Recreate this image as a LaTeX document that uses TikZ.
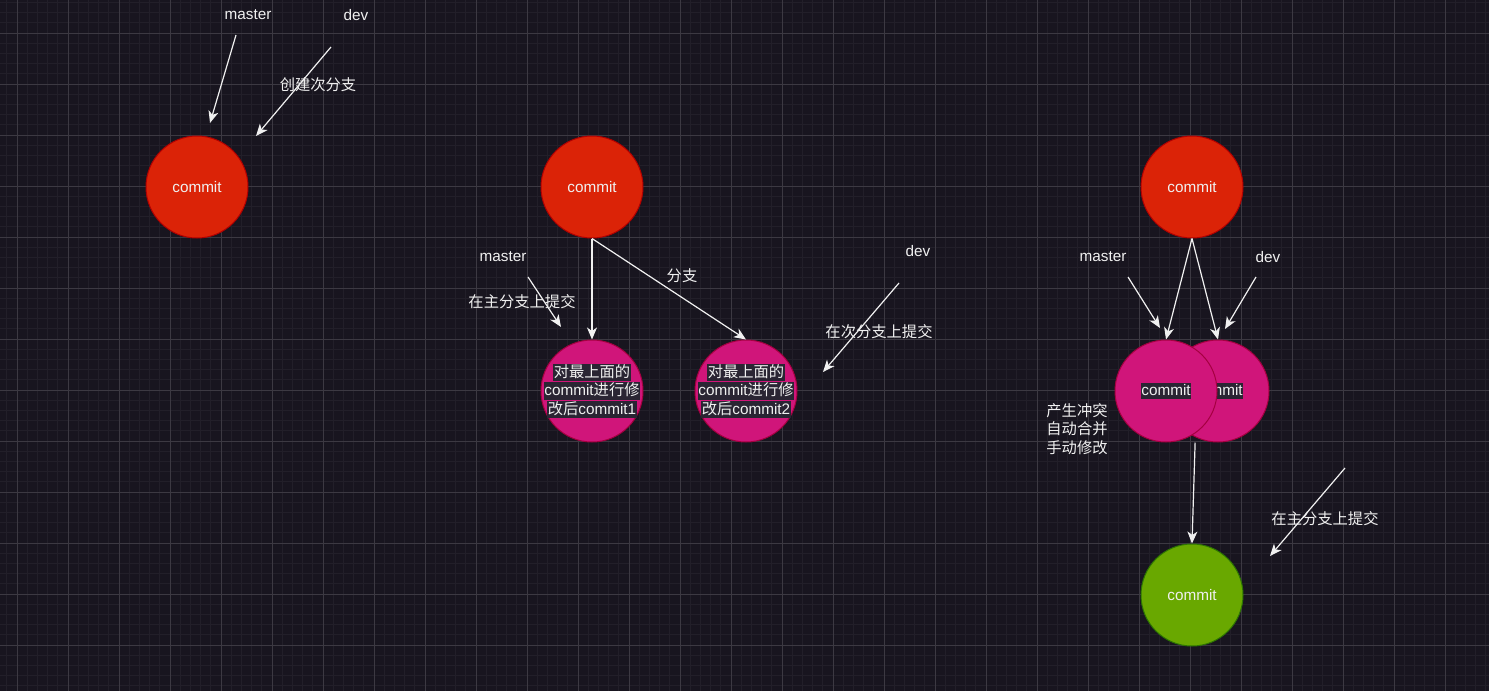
\documentclass[tikz,border=0pt]{standalone}
\usepackage{fontspec}
\setmainfont{Liberation Sans}
\newfontfamily\cjk{Noto Sans CJK SC}
\usetikzlibrary{arrows.meta,positioning,calc}
\definecolor{gBack}{HTML}{18151F}
\definecolor{gMinor}{HTML}{221F29}
\definecolor{gMajor}{HTML}{3C3942}
\definecolor{gRed}{HTML}{DB2307}
\definecolor{gRedLine}{HTML}{B20000}
\definecolor{gPink}{HTML}{D0157A}
\definecolor{gPinkLine}{HTML}{A50040}
\definecolor{gGreen}{HTML}{69A800}
\definecolor{gGreenLine}{HTML}{2D7600}
\definecolor{gText}{HTML}{F0F0F0}
\definecolor{gLabel}{HTML}{2A2533}
\setlength{\fboxsep}{0.5pt}
\newcommand{\hl}[1]{\colorbox{gLabel}{\rule[-3.8pt]{0pt}{15.8pt}#1}}
\tikzset{
  gfont/.style={font=\fontsize{15.3}{18.5}\selectfont},
  commit/.style={
    circle, minimum size=102pt, inner sep=0pt, line width=1pt,
    draw=gRedLine, fill=gRed, text=gText, align=center, gfont
  },
  change/.style={commit, draw=gPinkLine, fill=gPink},
  merged/.style={commit, draw=gGreenLine, fill=gGreen},
  lbl/.style={text=gText, inner sep=0pt, align=center, gfont},
  link/.style={-{Stealth[length=12pt, width=10pt, inset=3.5pt]}, line width=1.2pt, gText},
  minorline/.style={gMinor, line width=0.7pt},
  majorline/.style={gMajor, line width=0.8pt}
}

\begin{document}
\begin{tikzpicture}[x=1pt, y=-1pt]
  \useasboundingbox (0,0) rectangle (1489,691);
  % background grid
  \fill[gBack] (0,0) rectangle (1489,691);
  \foreach \i in {0,...,145} \draw[minorline] ({6.8+10.2*\i},0) -- ++(0,691);
  \foreach \i in {0,...,67} \draw[minorline] (0,{2.4+10.2*\i}) -- ++(1489,0);
  \foreach \i in {0,...,28} \draw[majorline] ({17+51*\i},0) -- ++(0,691);
  \foreach \i in {0,...,12} \draw[majorline] (0,{33+51*\i}) -- ++(1489,0);

  % left: create branch
  \node[commit] (c1) at (197,187) {commit};
  \node[lbl] (ma1) at (248,15) {master};
  \node[lbl] (dv1) at (356,15) {dev};
  \node[lbl] (t1) at (318,85) {\cjk 创建次分支};
  \coordinate (ma1a) at (236,35);
  \coordinate (ma1b) at (210,123);
  \coordinate (dv1a) at (331,47);
  \coordinate (dv1b) at (256,136);
  \draw[link] (ma1a) -- (ma1b);
  \draw[link] (dv1a) -- (dv1b);

  % middle: commits on both branches
  \node[commit] (c2) at (592,187) {commit};
  \node[change, label={[lbl]center:\hl{\cjk 对最上面的}\\\hl{commit{\cjk 进行修}}\\\hl{{\cjk 改后}commit1}}] (p1) at (592,391) {};
  \node[change, label={[lbl]center:\hl{\cjk 对最上面的}\\\hl{commit{\cjk 进行修}}\\\hl{{\cjk 改后}commit2}}] (p2) at (746,391) {};
  \draw[link] (c2.south) -- (p1.north);
  \draw[link] (c2.south) -- (p2.north);
  \node[lbl] (t2) at (682,276) {\cjk 分支};
  \node[lbl] (ma2) at (503,257) {master};
  \node[lbl] (t3) at (522,302) {\cjk 在主分支上提交};
  \coordinate (ma2a) at (528,277);
  \coordinate (ma2b) at (561,327);
  \draw[link] (ma2a) -- (ma2b);
  \node[lbl] (dv2) at (918,251) {dev};
  \node[lbl] (t4) at (879,332) {\cjk 在次分支上提交};
  \coordinate (dv2a) at (899,283);
  \coordinate (dv2b) at (823,372);
  \draw[link] (dv2a) -- (dv2b);

  % right: merge with conflict
  \node[commit] (c3) at (1192,187) {commit};
  \node[change] (p3) at (1218,391) {\hl{commit}};
  \node[change] (p4) at (1166,391) {\hl{commit}};
  \draw[link] (c3.south) -- (p4.north);
  \draw[link] (c3.south) -- (p3.north);
  \node[lbl] (ma3) at (1103,257) {master};
  \node[lbl] (dv3) at (1268,257) {dev};
  \coordinate (ma3a) at (1128,277);
  \coordinate (ma3b) at (1160,328);
  \coordinate (dv3a) at (1256,277);
  \coordinate (dv3b) at (1225,329);
  \draw[link] (ma3a) -- (ma3b);
  \draw[link] (dv3a) -- (dv3b);
  \node[lbl] (t5) at (1077,429) {\cjk 产生冲突\\\cjk 自动合并\\\cjk 手动修改};
  \node[merged] (g) at (1192,595) {commit};
  \draw[link] ($(p4.south)!.56!(p3.south)$) -- (g.north);
  \node[lbl] (t6) at (1325,519) {\cjk 在主分支上提交};
  \coordinate (ma4a) at (1345,468);
  \coordinate (ma4b) at (1270,556);
  \draw[link] (ma4a) -- (ma4b);
\end{tikzpicture}
\end{document}
